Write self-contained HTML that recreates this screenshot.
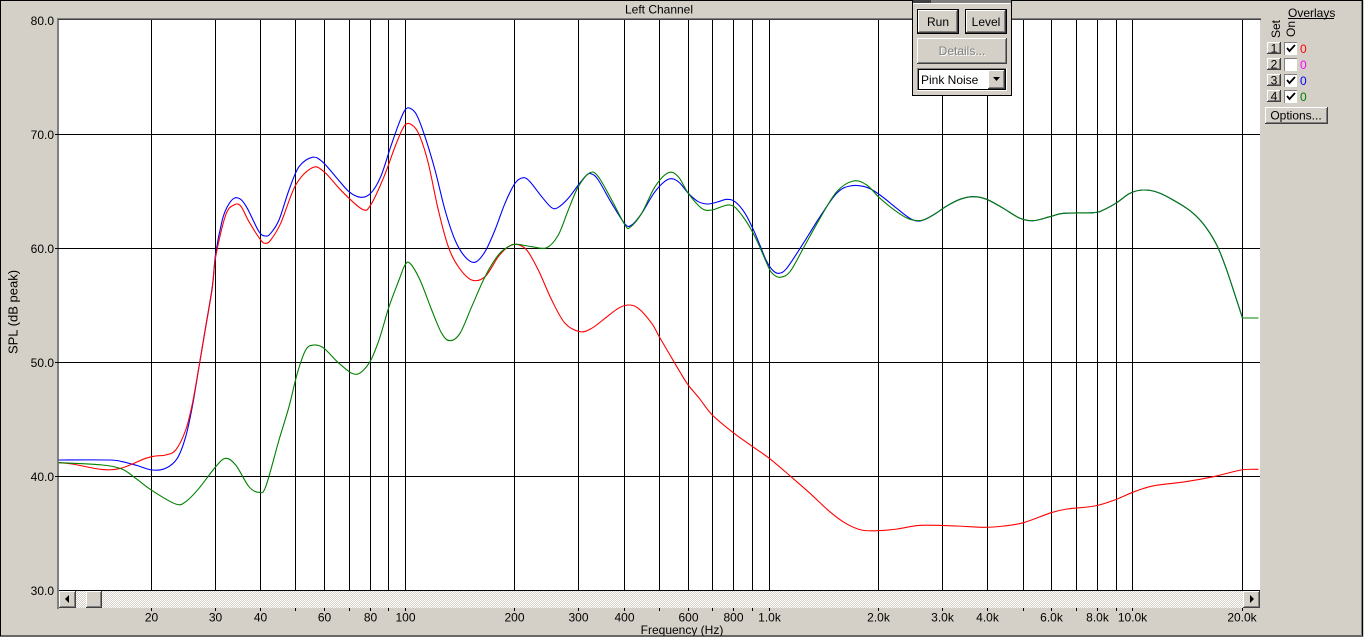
<!DOCTYPE html>
<html><head><meta charset="utf-8"><style>
html,body{margin:0;padding:0;background:#d4d0c8;}
svg{display:block;font-family:"Liberation Sans",sans-serif;}
</style></head><body>
<svg width="1364" height="637" viewBox="0 0 1364 637" xmlns="http://www.w3.org/2000/svg">
<defs>
<pattern id="chk" x="0" y="0" width="2" height="2" patternUnits="userSpaceOnUse">
<rect width="2" height="2" fill="#d4d0c8"/><rect width="1" height="1" fill="#fff"/><rect x="1" y="1" width="1" height="1" fill="#fff"/>
</pattern>
</defs>
<rect x="0" y="0" width="1364" height="637" fill="#d4d0c8"/>
<!-- window frame -->
<rect x="0.5" y="0.5" width="1362" height="635.5" fill="none" stroke="#000" stroke-width="1"/>
<line x1="1361.5" y1="1" x2="1361.5" y2="636" stroke="#808080"/>

<!-- plot area -->
<rect x="59" y="20" width="1201" height="571" fill="#fff"/>
<rect x="57" y="18" width="2" height="591" fill="#808080"/>
<rect x="57" y="18" width="1204" height="1" fill="#808080"/>
<rect x="58" y="19" width="1203" height="1" fill="#404040"/>

<!-- vertical gridlines -->
<g fill="#000">
<rect x="151" y="20" width="1" height="570"/>
<rect x="215" y="20" width="1" height="570"/>
<rect x="260" y="20" width="1" height="570"/>
<rect x="295" y="20" width="1" height="570"/>
<rect x="324" y="20" width="1" height="570"/>
<rect x="349" y="20" width="1" height="570"/>
<rect x="370" y="20" width="1" height="570"/>
<rect x="388" y="20" width="1" height="570"/>
<rect x="405" y="20" width="1" height="570"/>
<rect x="514" y="20" width="1" height="570"/>
<rect x="578" y="20" width="1" height="570"/>
<rect x="624" y="20" width="1" height="570"/>
<rect x="659" y="20" width="1" height="570"/>
<rect x="688" y="20" width="1" height="570"/>
<rect x="712" y="20" width="1" height="570"/>
<rect x="733" y="20" width="1" height="570"/>
<rect x="752" y="20" width="1" height="570"/>
<rect x="769" y="20" width="1" height="570"/>
<rect x="878" y="20" width="1" height="570"/>
<rect x="942" y="20" width="1" height="570"/>
<rect x="987" y="20" width="1" height="570"/>
<rect x="1023" y="20" width="1" height="570"/>
<rect x="1051" y="20" width="1" height="570"/>
<rect x="1076" y="20" width="1" height="570"/>
<rect x="1097" y="20" width="1" height="570"/>
<rect x="1116" y="20" width="1" height="570"/>
<rect x="1132" y="20" width="1" height="570"/>
<rect x="1242" y="20" width="1" height="570"/>
<!-- horizontal -->
<rect x="59" y="134" width="1201" height="1"/>
<rect x="59" y="248" width="1201" height="1"/>
<rect x="59" y="362" width="1201" height="1"/>
<rect x="59" y="476" width="1201" height="1"/>
<rect x="59" y="590" width="1201" height="1"/>
<!-- y ticks left -->
<rect x="55" y="134" width="4" height="1"/>
<rect x="55" y="248" width="4" height="1"/>
<rect x="55" y="362" width="4" height="1"/>
<rect x="55" y="476" width="4" height="1"/>
</g>

<!-- curves -->
<g fill="none" stroke-width="1.1" stroke-linejoin="round" stroke-linecap="round">
<polyline class="c" stroke="#0000ff" points="59,460 109,460 122.3,461.7 137,465.5 152.3,470 165.7,468.3 177.3,458.3 185.7,436.7 192.3,406.7 199,366.7 205.7,326.7 212.3,286.7 215.7,253.3 222.3,220 227.3,206.7 234,198.3 240.7,199.3 247.3,208.3 259,231.7 265.7,236 270.7,233.3 279,220 289,190 299,166.7 312.3,157.3 322.3,161.7 335.7,176.7 349,191.7 360.7,197.3 370.7,193.3 380.7,176.7 390.7,146.7 399,123.3 405,110 410,108.3 416.7,115 425,136.7 435,170 445,210 455,240 465,256.7 475,262.3 485,251.7 495,230 505,203.3 515,183.3 523.3,177.7 530,181.7 541.7,196.7 551.7,207.7 558.3,207.3 568.3,198.3 578.3,185 586.7,175 591.7,174 598.3,180 611.7,203.3 625,224 631.7,225 641.7,213.3 655,191.7 668.3,179.3 678.3,181.7 688.3,193.3 698.3,201.7 708.3,204 718.3,201.7 726.7,199.3 735,201.7 745,213.3 755,233.3 766,260 772,269.5 778.3,273.3 786.7,268.3 803.3,243.3 820,216.7 836.7,193.3 850,186 866.7,187.3 880,195 896.7,208.3 910,218.3 920,221 933.3,215 946.7,206 960,199.3 973.3,196.7 986.7,199.3 1003.3,208.3 1020,218.3 1033.3,220.7 1050,216.7 1063.3,213.3 1093.3,212.7 1103.3,210 1116.7,202.7 1130,193.3 1143.3,190 1160,193.3 1186.7,208.3 1200,220 1210,233.3 1218.3,248.3 1226.7,270 1235,295 1242.3,317.5"/>
<polyline class="c" stroke="#ff0000" points="59,462.7 72.3,464 100.7,469.3 120.7,468.3 145.7,458.3 155.7,456 165.7,455 175.7,450 185.7,430 192.3,404 199,366.7 205.7,327 212.3,288 215.7,256.7 225.7,215 234,205 240.7,206 249,221.7 260.7,240 265.7,243.3 270.7,240 280.7,223.3 295.7,185 312.3,167.7 324,171.7 342.3,191.7 362.3,209.3 370.7,205 384,176.7 395.7,145 405,125 413.3,126 420,136.7 428.3,163.3 438.3,210 448.3,246.7 458.3,266.7 471.7,280 485,276.7 498.3,256.7 508.3,246.7 516.7,244.3 526.7,250 538.3,270 551.7,300 565,323.3 580,331.7 591.7,328.3 605,318.3 618.3,308.3 628.3,305 638.3,308.3 651.7,323.3 660,338 670,355 680,372 688.2,385 699.3,398.3 712.3,415 733.3,432.7 752.7,446.7 769.3,458.3 790.2,476 810,493.3 829.8,511.7 845.6,523.3 861.4,530 877.2,530.7 897,529 920.7,525.3 956.3,526 984,527.3 1003.7,526 1023.5,522.7 1051.2,512.7 1067,509 1094.7,506 1114.5,500 1134.3,491.7 1154,485.7 1185.7,481.7 1213.3,476.7 1241,470 1258,469.3"/>
<polyline class="c" stroke="#008000" points="59,462.7 102.3,465 122.3,469.3 135.7,478.3 152.3,490.7 175.7,504 185.7,501.7 199,488.3 215.7,466.7 225.7,458.3 235.7,465 249,486.7 259,492.3 265.7,486.7 279,440 289,406.7 297.3,373.3 305.7,350 314,345 324,348.3 339,363.3 355.7,374.3 369,363.3 379,340 389,306.7 399,280 405,265 410,263.3 420,280 431.7,310 441.7,333.3 450,340.7 460,333.3 471.7,306.7 485,276.7 498.3,255 508.3,246.7 516.7,244.3 531.7,246.7 546.7,247.7 558.3,235 568.3,210 578.3,186.7 590,172.7 598.3,176.7 611.7,200 625,225 630,227.3 641.7,213.3 655,186.7 668.3,172.7 678.3,176.7 688.3,193.3 701.7,208.3 711.7,210 730,205 741.7,215 755,236.7 768.3,266.7 773,274 780,277.3 790,271.7 803.3,248.3 820,218.3 836.7,191.7 853.3,181 866.7,185 880,198.3 896.7,211.7 910,219.3 923.3,220 936.7,212.7 946.7,206 960,199.3 973.3,196.7 986.7,199.3 1003.3,208.3 1020,218.3 1033.3,220.7 1050,216.7 1063.3,213.3 1093.3,212.7 1103.3,210 1116.7,202.7 1130,193.3 1143.3,190 1160,193.3 1186.7,208.3 1200,220 1210,233.3 1218.3,248.3 1226.7,270 1235,295 1242.3,317.5"/>
<polyline stroke="#008000" points="1242.3,317.5 1242.3,318 1258,318"/>
</g>

<!-- scrollbar -->
<rect x="59" y="591" width="1201" height="17" fill="url(#chk)"/>
<g>
<rect x="59" y="591" width="17" height="17" fill="#404040"/>
<rect x="59" y="591" width="16" height="16" fill="#fff"/>
<rect x="60" y="592" width="15" height="15" fill="#808080"/>
<rect x="60" y="592" width="14" height="14" fill="#d4d0c8"/>
<polygon points="65,599 69,595 69,603" fill="#000"/>
<rect x="86" y="591" width="16" height="17" fill="#404040"/>
<rect x="86" y="591" width="15" height="16" fill="#fff"/>
<rect x="87" y="592" width="14" height="15" fill="#808080"/>
<rect x="87" y="592" width="13" height="14" fill="#d4d0c8"/>
<rect x="1243" y="591" width="17" height="17" fill="#404040"/>
<rect x="1243" y="591" width="16" height="16" fill="#fff"/>
<rect x="1244" y="592" width="15" height="15" fill="#808080"/>
<rect x="1244" y="592" width="14" height="14" fill="#d4d0c8"/>
<polygon points="1254,599 1250,595 1250,603" fill="#000"/>
</g>

<!-- x ticks below scrollbar -->
<g fill="#000">
<rect x="151" y="608" width="1" height="3"/><rect x="215" y="608" width="1" height="3"/><rect x="260" y="608" width="1" height="3"/><rect x="295" y="608" width="1" height="3"/><rect x="324" y="608" width="1" height="3"/><rect x="349" y="608" width="1" height="3"/><rect x="370" y="608" width="1" height="3"/><rect x="388" y="608" width="1" height="3"/><rect x="405" y="608" width="1" height="3"/><rect x="514" y="608" width="1" height="3"/><rect x="578" y="608" width="1" height="3"/><rect x="624" y="608" width="1" height="3"/><rect x="659" y="608" width="1" height="3"/><rect x="688" y="608" width="1" height="3"/><rect x="712" y="608" width="1" height="3"/><rect x="733" y="608" width="1" height="3"/><rect x="752" y="608" width="1" height="3"/><rect x="769" y="608" width="1" height="3"/><rect x="878" y="608" width="1" height="3"/><rect x="942" y="608" width="1" height="3"/><rect x="987" y="608" width="1" height="3"/><rect x="1023" y="608" width="1" height="3"/><rect x="1051" y="608" width="1" height="3"/><rect x="1076" y="608" width="1" height="3"/><rect x="1097" y="608" width="1" height="3"/><rect x="1116" y="608" width="1" height="3"/><rect x="1132" y="608" width="1" height="3"/><rect x="1242" y="608" width="1" height="3"/>
</g>

<!-- x labels -->
<g font-size="12" fill="#000" text-anchor="middle">
<text x="151.5" y="621.5">20</text>
<text x="215.5" y="621.5">30</text>
<text x="260.5" y="621.5">40</text>
<text x="324.5" y="621.5">60</text>
<text x="370.5" y="621.5">80</text>
<text x="405.5" y="621.5">100</text>
<text x="514.5" y="621.5">200</text>
<text x="578.5" y="621.5">300</text>
<text x="624.5" y="621.5">400</text>
<text x="688.5" y="621.5">600</text>
<text x="733.5" y="621.5">800</text>
<text x="769.5" y="621.5">1.0k</text>
<text x="878.5" y="621.5">2.0k</text>
<text x="942.5" y="621.5">3.0k</text>
<text x="987.5" y="621.5">4.0k</text>
<text x="1051.5" y="621.5">6.0k</text>
<text x="1097.5" y="621.5">8.0k</text>
<text x="1132.5" y="621.5">10.0k</text>
<text x="1242" y="621.5">20.0k</text>
<text x="682" y="634">Frequency (Hz)</text>
</g>

<!-- y labels -->
<g font-size="12" fill="#000" text-anchor="end">
<text x="54" y="25">80.0</text>
<text x="54" y="139">70.0</text>
<text x="54" y="253">60.0</text>
<text x="54" y="367">50.0</text>
<text x="54" y="481">40.0</text>
<text x="54" y="595">30.0</text>
</g>
<text x="17.5" y="312" font-size="13" text-anchor="middle" transform="rotate(-90 17.5 312)">SPL (dB peak)</text>

<!-- title -->
<text x="659" y="13.5" font-size="12" text-anchor="middle">Left Channel</text>

<!-- floating panel -->
<rect x="912" y="0" width="100" height="96" fill="#000"/>
<rect x="913" y="0" width="98" height="95" fill="#d4d0c8"/>
<rect x="913" y="0" width="98" height="3" fill="#808080"/>
<rect x="913" y="0" width="18" height="3" fill="#404040"/>
<rect x="913" y="3" width="97" height="1" fill="#fff"/>
<!-- Run -->
<rect x="917" y="9" width="42" height="25" fill="#000"/>
<rect x="918" y="10" width="40" height="23" fill="#404040"/>
<rect x="918" y="10" width="39" height="22" fill="#fff"/>
<rect x="919" y="11" width="38" height="21" fill="#808080"/>
<rect x="919" y="11" width="37" height="20" fill="#d4d0c8"/>
<text x="938" y="26" font-size="12" text-anchor="middle">Run</text>
<!-- Level -->
<rect x="965" y="9" width="42" height="25" fill="#000"/>
<rect x="966" y="10" width="40" height="23" fill="#404040"/>
<rect x="966" y="10" width="39" height="22" fill="#fff"/>
<rect x="967" y="11" width="38" height="21" fill="#808080"/>
<rect x="967" y="11" width="37" height="20" fill="#d4d0c8"/>
<text x="986" y="26" font-size="12" text-anchor="middle">Level</text>
<!-- Details -->
<rect x="917" y="38" width="90" height="26" fill="#404040"/>
<rect x="917" y="38" width="89" height="25" fill="#fff"/>
<rect x="918" y="39" width="88" height="24" fill="#808080"/>
<rect x="918" y="39" width="87" height="23" fill="#d4d0c8"/>
<text x="963" y="56" font-size="12" text-anchor="middle" fill="#fff">Details...</text>
<text x="962" y="55" font-size="12" text-anchor="middle" fill="#808080">Details...</text>
<!-- dropdown -->
<rect x="917" y="68" width="90" height="23" fill="#fff"/>
<rect x="917" y="68" width="89" height="22" fill="#808080"/>
<rect x="918" y="69" width="88" height="21" fill="#000"/>
<rect x="919" y="70" width="86" height="19" fill="#fff"/>
<text x="921" y="84" font-size="12">Pink Noise</text>
<rect x="988" y="70" width="17" height="19" fill="#404040"/>
<rect x="988" y="70" width="16" height="18" fill="#fff"/>
<rect x="989" y="71" width="15" height="17" fill="#808080"/>
<rect x="989" y="71" width="14" height="16" fill="#d4d0c8"/>
<polygon points="993,77 1000,77 996.5,81" fill="#000"/>

<!-- overlays panel -->
<text x="1288" y="17" font-size="12">Overlays</text>
<rect x="1288" y="18" width="46" height="1" fill="#000"/>
<text x="1280" y="29" font-size="12" text-anchor="middle" transform="rotate(-90 1280 29)">Set</text>
<text x="1295" y="29" font-size="12" text-anchor="middle" transform="rotate(-90 1295 29)">On</text>
<g font-size="12" text-anchor="middle">
<rect x="1267" y="42" width="14" height="12" fill="#404040"/><rect x="1267" y="42" width="13" height="11" fill="#fff"/><rect x="1268" y="43" width="12" height="10" fill="#808080"/><rect x="1268" y="43" width="11" height="9" fill="#d4d0c8"/>
<text x="1274" y="52.5">1</text>
<rect x="1267" y="58" width="14" height="12" fill="#404040"/><rect x="1267" y="58" width="13" height="11" fill="#fff"/><rect x="1268" y="59" width="12" height="10" fill="#808080"/><rect x="1268" y="59" width="11" height="9" fill="#d4d0c8"/>
<text x="1274" y="68.5">2</text>
<rect x="1267" y="74" width="14" height="12" fill="#404040"/><rect x="1267" y="74" width="13" height="11" fill="#fff"/><rect x="1268" y="75" width="12" height="10" fill="#808080"/><rect x="1268" y="75" width="11" height="9" fill="#d4d0c8"/>
<text x="1274" y="84.5">3</text>
<rect x="1267" y="90" width="14" height="12" fill="#404040"/><rect x="1267" y="90" width="13" height="11" fill="#fff"/><rect x="1268" y="91" width="12" height="10" fill="#808080"/><rect x="1268" y="91" width="11" height="9" fill="#d4d0c8"/>
<text x="1274" y="100.5">4</text>
</g>
<g>
<rect x="1284" y="42" width="13" height="13" fill="#808080"/><rect x="1285" y="43" width="12" height="12" fill="#fff"/>
<rect x="1284" y="58" width="13" height="13" fill="#808080"/><rect x="1285" y="59" width="12" height="12" fill="#fff"/>
<rect x="1284" y="74" width="13" height="13" fill="#808080"/><rect x="1285" y="75" width="12" height="12" fill="#fff"/>
<rect x="1284" y="90" width="13" height="13" fill="#808080"/><rect x="1285" y="91" width="12" height="12" fill="#fff"/>
<polyline points="1287,48 1289.5,51 1295,45" fill="none" stroke="#000" stroke-width="1.8"/>
<polyline points="1287,80 1289.5,83 1295,77" fill="none" stroke="#000" stroke-width="1.8"/>
<polyline points="1287,96 1289.5,99 1295,93" fill="none" stroke="#000" stroke-width="1.8"/>
</g>
<g font-size="12">
<text x="1300" y="53" fill="#ff0000">0</text>
<text x="1300" y="69" fill="#ff00ff">0</text>
<text x="1300" y="85" fill="#0000ff">0</text>
<text x="1300" y="101" fill="#008000">0</text>
</g>
<rect x="1265" y="107" width="63" height="17" fill="#404040"/>
<rect x="1265" y="107" width="62" height="16" fill="#fff"/>
<rect x="1266" y="108" width="61" height="15" fill="#808080"/>
<rect x="1266" y="108" width="60" height="14" fill="#d4d0c8"/>
<text x="1296" y="119.5" font-size="12" text-anchor="middle">Options...</text>
</svg>
<script>
(function(){
  var list = document.querySelectorAll('polyline.c');
  for (var k = 0; k < list.length; k++) {
    var pl = list[k];
    var raw = pl.getAttribute('points').trim().split(/\s+/);
    var pts = raw.map(function(s){ var a = s.split(','); return [parseFloat(a[0]), parseFloat(a[1])]; });
    var d = 'M' + pts[0][0] + ',' + pts[0][1];
    for (var i = 0; i < pts.length - 1; i++) {
      var p0 = pts[i-1] || pts[i], p1 = pts[i], p2 = pts[i+1], p3 = pts[i+2] || pts[i+1];
      var c1x = p1[0] + (p2[0]-p0[0])/6, c1y = p1[1] + (p2[1]-p0[1])/6;
      var c2x = p2[0] - (p3[0]-p1[0])/6, c2y = p2[1] - (p3[1]-p1[1])/6;
      d += ' C' + c1x.toFixed(2) + ',' + c1y.toFixed(2) + ' ' + c2x.toFixed(2) + ',' + c2y.toFixed(2) + ' ' + p2[0] + ',' + p2[1];
    }
    var p = document.createElementNS('http://www.w3.org/2000/svg', 'path');
    p.setAttribute('d', d);
    p.setAttribute('stroke', pl.getAttribute('stroke'));
    pl.parentNode.replaceChild(p, pl);
  }
})();
</script>
</body></html>
